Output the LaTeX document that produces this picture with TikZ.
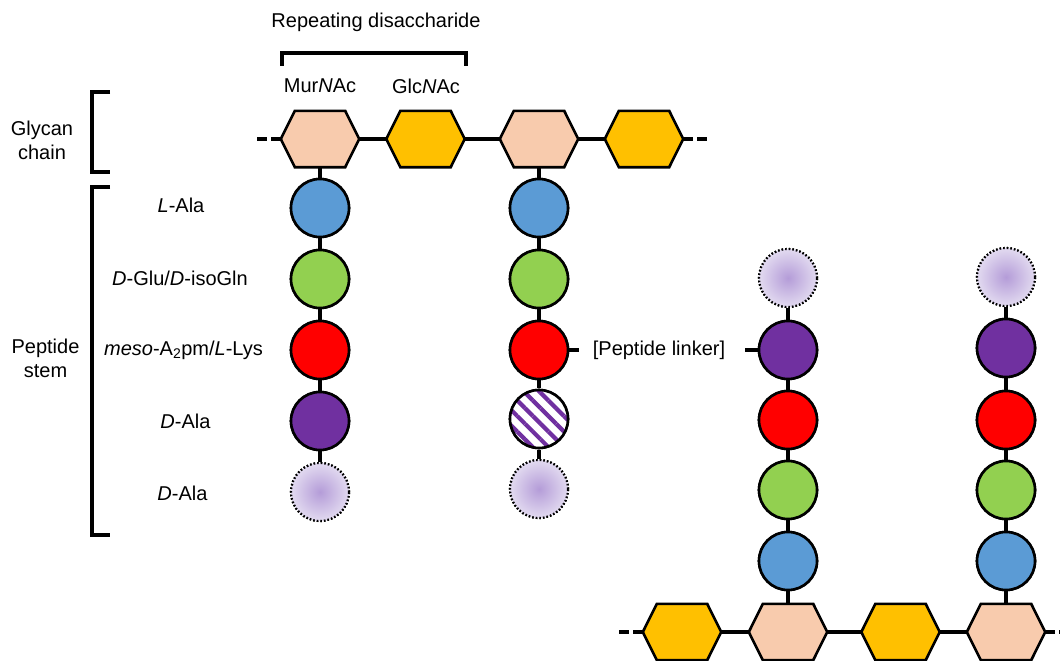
\documentclass[tikz,border=0pt]{standalone}
\usepackage{fontspec}
\setmainfont{Liberation Sans}
\usetikzlibrary{patterns.meta}
\definecolor{murc}{HTML}{F8CBAD}
\definecolor{glcc}{HTML}{FFC000}
\definecolor{alac}{HTML}{5B9BD5}
\definecolor{gluc}{HTML}{92D050}
\definecolor{lysc}{HTML}{FF0000}
\definecolor{dalac}{HTML}{7030A0}
\definecolor{shin}{HTML}{B49CD8}
\definecolor{shout}{HTML}{E2DAF0}
\tikzset{
  hexbox/.style={draw=none, minimum width=78pt, minimum height=56pt, inner sep=0pt},
  hexline/.style={draw=black, line width=2.6pt, line join=miter},
  res/.style={circle, draw=black, line width=2.6pt, minimum size=58pt, inner sep=0pt},
  ghost/.style={circle, draw=black, line width=2.2pt, dash pattern=on 1.6pt off 2pt,
     minimum size=58pt, inner sep=0pt, inner color=shin, outer color=shout},
  hatched/.style={res, preaction={fill=white},
     pattern={Lines[angle=-45,distance=11pt,line width=4.2pt]}, pattern color=dalac},
  link/.style={line width=3.6pt},
  endlink/.style={line width=3.6pt, dash pattern=on 10pt off 4pt},
  brk/.style={line width=3.4pt, line join=miter},
  lab/.style={font=\fontsize{20}{24}\selectfont, inner sep=0pt, align=center},
}
\begin{document}
\begin{tikzpicture}[x=1pt,y=-1pt]
\useasboundingbox (0,0) rectangle (1060,661);

% labels top
\node[lab] (rd) at (376,22) {Repeating disaccharide};
\node[lab] (mur) at (320,86) {Mur\textit{N}Ac};
\node[lab] (glc) at (426,86) {Glc\textit{N}Ac};
\coordinate (b1) at (282,66);
\coordinate (b2) at (282,53);
\coordinate (b3) at (466,53);
\coordinate (b4) at (466,66);
\draw[brk] (b1) -- (b2) -- (b3) -- (b4);

% left brackets
\coordinate (g1) at (110,92);
\coordinate (g2) at (92,92);
\coordinate (g3) at (92,172);
\coordinate (g4) at (110,172);
\draw[brk] (g1) -- (g2) -- (g3) -- (g4);
\coordinate (p1) at (110,187);
\coordinate (p2) at (92,187);
\coordinate (p3) at (92,535);
\coordinate (p4) at (110,535);
\draw[brk] (p1) -- (p2) -- (p3) -- (p4);
\node[lab] (glyc) at (42,140) {Glycan\\chain};
\node[lab] (pep) at (45.5,358) {Peptide\\stem};

% residue labels
\node[lab] (l1) at (181,205) {\textit{L}-Ala};
\node[lab] (l2) at (180,278) {\textit{D}-Glu/\textit{D}-isoGln};
\node[lab] (l3) at (183.5,350) {\textit{meso}-A\textsubscript{2}pm/\textit{L}-Lys};
\node[lab] (l4) at (185.5,421) {\textit{D}-Ala};
\node[lab] (l5) at (182.5,493) {\textit{D}-Ala};

% node placement
\node[hexbox] (h1) at (320,139) {};
\node[hexbox] (h2) at (425.5,139) {};
\node[hexbox] (h3) at (539,139) {};
\node[hexbox] (h4) at (644,139) {};
\node[res] (a1) at (320,208) {};
\node[res] (a2) at (320,279) {};
\node[res] (a3) at (320,350) {};
\node[res] (a4) at (320,421) {};
\node[ghost] (a5) at (320,492) {};
\node[res] (c1) at (539,208) {};
\node[res] (c2) at (539,279) {};
\node[res] (c3) at (539,350) {};
\node[hatched] (c4) at (539,419) {};
\node[ghost] (c5) at (539,489) {};
\node[hexbox] (k1) at (682,632) {};
\node[hexbox] (k2) at (788,632) {};
\node[hexbox] (k3) at (900.5,632) {};
\node[hexbox] (k4) at (1006,632) {};
\node[ghost] (d5) at (788,278) {};
\node[res] (d4) at (788,350) {};
\node[res] (d3) at (788,420) {};
\node[res] (d2) at (788,490) {};
\node[res] (d1) at (788,561) {};
\node[ghost] (e5) at (1006,277) {};
\node[res] (e4) at (1006,348) {};
\node[res] (e3) at (1006,420) {};
\node[res] (e2) at (1006,490) {};
\node[res] (e1) at (1006,561) {};

% connectors
\draw[link] (h1.east) -- (h2.west);
\draw[link] (h2.east) -- (h3.west);
\draw[link] (h3.east) -- (h4.west);
\coordinate (tl) at (253,139);
\coordinate (tr) at (711,139);
\draw[endlink] (h1.west) -- (tl);
\draw[endlink] (h4.east) -- (tr);
\draw[link] (h1.south) -- (a1.north);
\draw[link] (a1.south) -- (a2.north);
\draw[link] (a2.south) -- (a3.north);
\draw[link] (a3.south) -- (a4.north);
\draw[link] (a4.south) -- (a5.north);
\draw[link] (h3.south) -- (c1.north);
\draw[link] (c1.south) -- (c2.north);
\draw[link] (c2.south) -- (c3.north);
\draw[link] (c3.south) -- (c4.north);
\draw[link] (c4.south) -- (c5.north);
\draw[link] (k1.east) -- (k2.west);
\draw[link] (k2.east) -- (k3.west);
\draw[link] (k3.east) -- (k4.west);
\coordinate (bl) at (615,632);
\coordinate (br) at (1060,632);
\draw[endlink] (k1.west) -- (bl);
\draw[endlink] (k4.east) -- (br);
\draw[link] (d5.south) -- (d4.north);
\draw[link] (d4.south) -- (d3.north);
\draw[link] (d3.south) -- (d2.north);
\draw[link] (d2.south) -- (d1.north);
\draw[link] (d1.south) -- (k2.north);
\draw[link] (e5.south) -- (e4.north);
\draw[link] (e4.south) -- (e3.north);
\draw[link] (e3.south) -- (e2.north);
\draw[link] (e2.south) -- (e1.north);
\draw[link] (e1.south) -- (k4.north);
\node[lab] (lk) at (659,350) {[Peptide linker]};
\coordinate (lk1) at (579,350);
\coordinate (lk2) at (745,350);
\draw[link] (c3.east) -- (lk1);
\draw[link] (lk2) -- (d4.west);

% hexagon outlines
\foreach \n/\c in {h1/murc,h2/glcc,h3/murc,h4/glcc,k1/glcc,k2/murc,k3/glcc,k4/murc}{
  \filldraw[hexline, fill=\c] (\n.west) -- ([xshift=14pt]\n.north west) -- ([xshift=-14pt]\n.north east)
    -- (\n.east) -- ([xshift=-14pt]\n.south east) -- ([xshift=14pt]\n.south west) -- cycle;
}
% circles on top of connectors
\foreach \n/\c in {a1/alac,a2/gluc,a3/lysc,a4/dalac,c1/alac,c2/gluc,c3/lysc,
                   d4/dalac,d3/lysc,d2/gluc,d1/alac,e4/dalac,e3/lysc,e2/gluc,e1/alac}{
  \filldraw[line width=2.6pt, fill=\c] (\n.center) circle[radius=29pt];
}
\node[hatched] (c4b) at (c4) {};
\foreach \n in {a5,c5,d5,e5}{
  \node[ghost] at (\n) {};
}
\end{tikzpicture}
\end{document}
